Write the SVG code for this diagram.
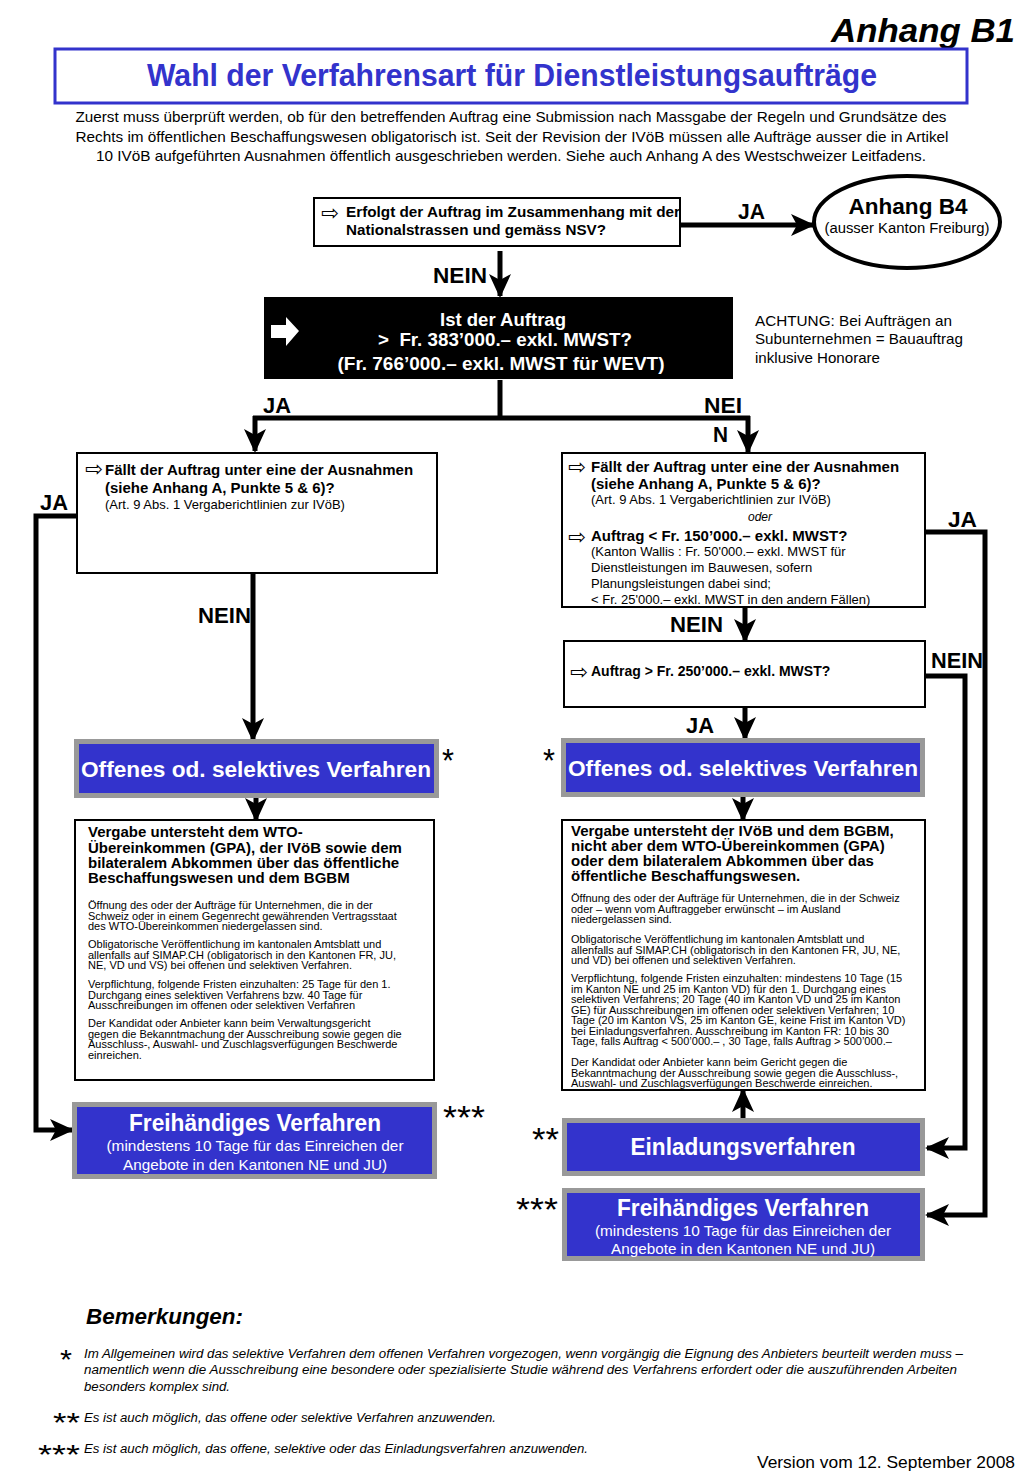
<svg xmlns="http://www.w3.org/2000/svg" width="1024" height="1479" viewBox="0 0 1024 1479">
<defs>
<style>
text{font-family:"Liberation Sans",Arial,sans-serif;fill:#000}
.b{font-weight:bold}
.i{font-style:italic}
.w{fill:#fff}
.box{fill:#fff;stroke:#000;stroke-width:2}
.gray{fill:#999}
.blue{fill:#3333cc}
.con{fill:none;stroke:#000;stroke-width:5}
.lbl{font-weight:bold;font-size:22px}
.sym{font-family:"DejaVu Sans",sans-serif;font-size:21px}
.star{font-size:34px}
.fstar{font-size:28px}
.hd{font-weight:bold;font-size:15px}
.bd{font-size:11px}
</style>
<marker id="ah" markerUnits="userSpaceOnUse" markerWidth="24" markerHeight="24" viewBox="0 0 24 24" refX="22" refY="12" orient="auto">
<path d="M0,1 L24,12 L0,23 L6,12 z" fill="#000"/>
</marker>
</defs>
<rect width="1024" height="1479" fill="#fff"/>

<g id="header">
<text x="1015" y="42" text-anchor="end" class="b i" font-size="33" textLength="184" lengthAdjust="spacingAndGlyphs">Anhang B1</text>
<rect x="55" y="49" width="912" height="54" fill="#fff" stroke="#3333cc" stroke-width="3"/>
<text x="512" y="86" text-anchor="middle" class="b" font-size="31" style="fill:#3333cc" textLength="730" lengthAdjust="spacingAndGlyphs">Wahl der Verfahrensart für Dienstleistungsaufträge</text>
<text x="511" y="122" text-anchor="middle" font-size="14.5" textLength="871" lengthAdjust="spacingAndGlyphs">Zuerst muss überprüft werden, ob für den betreffenden Auftrag eine Submission nach Massgabe der Regeln und Grundsätze des</text>
<text x="512" y="142" text-anchor="middle" font-size="14.5" textLength="873" lengthAdjust="spacingAndGlyphs">Rechts im öffentlichen Beschaffungswesen obligatorisch ist. Seit der Revision der IVöB müssen alle Aufträge ausser die in Artikel</text>
<text x="511" y="161" text-anchor="middle" font-size="14.5" textLength="830" lengthAdjust="spacingAndGlyphs">10 IVöB aufgeführten Ausnahmen öffentlich ausgeschrieben werden. Siehe auch Anhang A des Westschweizer Leitfadens.</text>
</g>

<g id="connectors">
<path class="con" d="M680,225 H813" marker-end="url(#ah)" stroke-width="6"/>
<path class="con" d="M500,251 V296" marker-end="url(#ah)"/>
<path class="con" d="M500,380 V418"/>
<path class="con" d="M253,418 H750"/>
<path class="con" d="M255,416 V451" marker-end="url(#ah)"/>
<path class="con" d="M748,416 V452" marker-end="url(#ah)"/>
<path class="con" d="M77,516 H36 V1130 H72" marker-end="url(#ah)"/>
<path class="con" d="M253,573 V740" marker-end="url(#ah)"/>
<path class="con" d="M256,797 V820" marker-end="url(#ah)"/>
<path class="con" d="M925,532 H985 V1215 H927" marker-end="url(#ah)"/>
<path class="con" d="M745,607 V641" marker-end="url(#ah)"/>
<path class="con" d="M925,676 H965 V1148 H927" marker-end="url(#ah)"/>
<path class="con" d="M745,708 V739" marker-end="url(#ah)"/>
<path class="con" d="M743,797 V820" marker-end="url(#ah)"/>
<path class="con" d="M743,1118 V1090" marker-end="url(#ah)"/>
</g>

<g id="labels">
<text x="738" y="219" class="lbl" font-size="21" textLength="27" lengthAdjust="spacingAndGlyphs">JA</text>
<text x="433" y="283" class="lbl" textLength="54" lengthAdjust="spacingAndGlyphs">NEIN</text>
<text x="263" y="413" class="lbl" textLength="28" lengthAdjust="spacingAndGlyphs">JA</text>
<text x="704" y="413" class="lbl" textLength="38" lengthAdjust="spacingAndGlyphs">NEI</text>
<text x="713" y="442" class="lbl" textLength="15" lengthAdjust="spacingAndGlyphs">N</text>
<text x="40" y="510" class="lbl" textLength="28" lengthAdjust="spacingAndGlyphs">JA</text>
<text x="198" y="623" class="lbl" textLength="53" lengthAdjust="spacingAndGlyphs">NEIN</text>
<text x="948" y="527" class="lbl" textLength="29" lengthAdjust="spacingAndGlyphs">JA</text>
<text x="670" y="632" class="lbl" textLength="53" lengthAdjust="spacingAndGlyphs">NEIN</text>
<text x="931" y="668" class="lbl" textLength="52" lengthAdjust="spacingAndGlyphs">NEIN</text>
<text x="686" y="733" class="lbl" textLength="28" lengthAdjust="spacingAndGlyphs">JA</text>
<text x="442" y="772" class="star" textLength="12" lengthAdjust="spacingAndGlyphs">*</text>
<text x="543" y="772" class="star" textLength="12" lengthAdjust="spacingAndGlyphs">*</text>
<text x="443" y="1129" class="star" textLength="42" lengthAdjust="spacingAndGlyphs">***</text>
<text x="532" y="1151" class="star" textLength="27" lengthAdjust="spacingAndGlyphs">**</text>
<text x="516" y="1221" class="star" textLength="42" lengthAdjust="spacingAndGlyphs">***</text>
</g>

<g id="q-nsv">
<rect class="box" x="314" y="198" width="366" height="48"/>
<text x="321" y="220" class="sym">⇨</text>
<text x="346" y="217" class="b" font-size="14" textLength="334" lengthAdjust="spacingAndGlyphs">Erfolgt der Auftrag im Zusammenhang mit der</text>
<text x="346" y="235" class="b" font-size="14" textLength="260" lengthAdjust="spacingAndGlyphs">Nationalstrassen und gemäss NSV?</text>
</g>

<g id="anhang-b4">
<ellipse cx="907" cy="222" rx="93" ry="46" fill="#fff" stroke="#000" stroke-width="4"/>
<text x="908" y="214" text-anchor="middle" class="b" font-size="22" textLength="119" lengthAdjust="spacingAndGlyphs">Anhang B4</text>
<text x="907" y="233" text-anchor="middle" font-size="14" textLength="165" lengthAdjust="spacingAndGlyphs">(ausser Kanton Freiburg)</text>
</g>

<g id="q-schwelle">
<rect x="264" y="297" width="469" height="82" fill="#000"/>
<polygon points="271,325 286,325 286,317 299,331 286,346 286,338 271,338" fill="#fff"/>
<text x="503" y="326" text-anchor="middle" class="b w" font-size="18" textLength="126" lengthAdjust="spacingAndGlyphs">Ist der Auftrag</text>
<text x="505" y="346" text-anchor="middle" class="b w" font-size="18" textLength="254" lengthAdjust="spacingAndGlyphs" xml:space="preserve">&gt;  Fr. 383’000.– exkl. MWST?</text>
<text x="501" y="370" text-anchor="middle" class="b w" font-size="18" textLength="327" lengthAdjust="spacingAndGlyphs">(Fr. 766’000.– exkl. MWST für WEVT)</text>
</g>

<g id="achtung">
<text x="755" y="326" font-size="15" textLength="197" lengthAdjust="spacingAndGlyphs">ACHTUNG: Bei Aufträgen an</text>
<text x="755" y="344" font-size="15" textLength="208" lengthAdjust="spacingAndGlyphs">Subunternehmen = Bauauftrag</text>
<text x="755" y="363" font-size="15" textLength="125" lengthAdjust="spacingAndGlyphs">inklusive Honorare</text>
</g>

<g id="q-ausnahmen-links">
<rect class="box" x="77" y="453" width="360" height="120"/>
<text x="85" y="476" class="sym">⇨</text>
<text x="105" y="475" class="b" font-size="15">Fällt der Auftrag unter eine der Ausnahmen</text>
<text x="105" y="493" class="b" font-size="15">(siehe Anhang A, Punkte 5 &amp; 6)?</text>
<text x="105" y="509" font-size="13">(Art. 9 Abs. 1 Vergaberichtlinien zur IVöB)</text>
</g>

<g id="q-ausnahmen-rechts">
<rect class="box" x="562" y="453" width="363" height="154"/>
<text x="568" y="474" class="sym">⇨</text>
<text x="591" y="472" class="b" font-size="15">Fällt der Auftrag unter eine der Ausnahmen</text>
<text x="591" y="489" class="b" font-size="15">(siehe Anhang A, Punkte 5 &amp; 6)?</text>
<text x="591" y="504" font-size="13">(Art. 9 Abs. 1 Vergaberichtlinien zur IVöB)</text>
<text x="760" y="521" text-anchor="middle" class="i" font-size="12">oder</text>
<text x="568" y="544" class="sym">⇨</text>
<text x="591" y="541" class="b" font-size="15">Auftrag &lt; Fr. 150’000.– exkl. MWST?</text>
<text x="591" y="556" font-size="13">(Kanton Wallis : Fr. 50'000.– exkl. MWST für</text>
<text x="591" y="572" font-size="13">Dienstleistungen im Bauwesen, sofern</text>
<text x="591" y="588" font-size="13">Planungsleistungen dabei sind;</text>
<text x="591" y="604" font-size="13">&lt; Fr. 25'000.– exkl. MWST in den andern Fällen)</text>
</g>

<g id="q-250">
<rect class="box" x="564" y="641" width="361" height="66"/>
<text x="570" y="679" class="sym">⇨</text>
<text x="591" y="676" class="b" font-size="14">Auftrag &gt; Fr. 250’000.– exkl. MWST?</text>
</g>

<g id="offen-links">
<rect class="gray" x="74" y="739" width="365" height="59"/>
<rect class="blue" x="79" y="744" width="355" height="49"/>
<text x="256" y="777" text-anchor="middle" class="b w" font-size="22" textLength="350" lengthAdjust="spacingAndGlyphs">Offenes od. selektives Verfahren</text>
</g>

<g id="offen-rechts">
<rect class="gray" x="561" y="738" width="364" height="59"/>
<rect class="blue" x="566" y="743" width="354" height="49"/>
<text x="743" y="776" text-anchor="middle" class="b w" font-size="22" textLength="350" lengthAdjust="spacingAndGlyphs">Offenes od. selektives Verfahren</text>
</g>

<g id="wto-box">
<rect class="box" x="75" y="820" width="359" height="260"/>
<text x="88" y="837" class="hd">Vergabe untersteht dem WTO-</text>
<text x="88" y="853" class="hd">Übereinkommen (GPA), der IVöB sowie dem</text>
<text x="88" y="868" class="hd">bilateralem Abkommen über das öffentliche</text>
<text x="88" y="883" class="hd">Beschaffungswesen und dem BGBM</text>
<text x="88" y="909" class="bd">Öffnung des oder der Aufträge für Unternehmen, die in der</text>
<text x="88" y="919.5" class="bd">Schweiz oder in einem Gegenrecht gewährenden Vertragsstaat</text>
<text x="88" y="930" class="bd">des WTO-Übereinkommen niedergelassen sind.</text>
<text x="88" y="948" class="bd">Obligatorische Veröffentlichung im kantonalen Amtsblatt und</text>
<text x="88" y="958.5" class="bd">allenfalls auf SIMAP.CH (obligatorisch in den Kantonen FR, JU,</text>
<text x="88" y="969" class="bd">NE, VD und VS) bei offenen und selektiven Verfahren.</text>
<text x="88" y="988" class="bd">Verpflichtung, folgende Fristen einzuhalten: 25 Tage für den 1.</text>
<text x="88" y="998.5" class="bd">Durchgang eines selektiven Verfahrens bzw. 40 Tage für</text>
<text x="88" y="1009" class="bd">Ausschreibungen im offenen oder selektiven Verfahren</text>
<text x="88" y="1027" class="bd">Der Kandidat oder Anbieter kann beim Verwaltungsgericht</text>
<text x="88" y="1037.5" class="bd">gegen die Bekanntmachung der Ausschreibung sowie gegen die</text>
<text x="88" y="1048" class="bd">Ausschluss-, Auswahl- und Zuschlagsverfügungen Beschwerde</text>
<text x="88" y="1058.5" class="bd">einreichen.</text>
</g>

<g id="ivob-box">
<rect class="box" x="562" y="820" width="363" height="270"/>
<text x="571" y="836" class="hd">Vergabe untersteht der IVöB und dem BGBM,</text>
<text x="571" y="851" class="hd">nicht aber dem WTO-Übereinkommen (GPA)</text>
<text x="571" y="866" class="hd">oder dem bilateralem Abkommen über das</text>
<text x="571" y="881" class="hd">öffentliche Beschaffungswesen.</text>
<text x="571" y="902" class="bd">Öffnung des oder der Aufträge für Unternehmen, die in der Schweiz</text>
<text x="571" y="912.5" class="bd">oder – wenn vom Auftraggeber erwünscht – im Ausland</text>
<text x="571" y="923" class="bd">niedergelassen sind.</text>
<text x="571" y="943" class="bd">Obligatorische Veröffentlichung im kantonalen Amtsblatt und</text>
<text x="571" y="953.5" class="bd">allenfalls auf SIMAP.CH (obligatorisch in den Kantonen FR, JU, NE,</text>
<text x="571" y="964" class="bd">und VD) bei offenen und selektiven Verfahren.</text>
<text x="571" y="982" class="bd">Verpflichtung, folgende Fristen einzuhalten: mindestens 10 Tage (15</text>
<text x="571" y="992.5" class="bd">im Kanton NE und 25 im Kanton VD) für den 1. Durchgang eines</text>
<text x="571" y="1003" class="bd">selektiven Verfahrens; 20 Tage (40 im Kanton VD und 25 im Kanton</text>
<text x="571" y="1013.5" class="bd">GE) für Ausschreibungen im offenen oder selektiven Verfahren; 10</text>
<text x="571" y="1024" class="bd">Tage (20 im Kanton VS, 25 im Kanton GE, keine Frist im Kanton VD)</text>
<text x="571" y="1034.5" class="bd">bei Einladungsverfahren. Ausschreibung im Kanton FR: 10 bis 30</text>
<text x="571" y="1045" class="bd">Tage, falls Auftrag &lt; 500’000.– , 30 Tage, falls Auftrag &gt; 500’000.–</text>
<text x="571" y="1066" class="bd">Der Kandidat oder Anbieter kann beim Gericht gegen die</text>
<text x="571" y="1076.5" class="bd">Bekanntmachung der Ausschreibung sowie gegen die Ausschluss-,</text>
<text x="571" y="1087" class="bd">Auswahl- und Zuschlagsverfügungen Beschwerde einreichen.</text>
</g>

<g id="freihaendig-links">
<rect class="gray" x="72" y="1102" width="365" height="77"/>
<rect class="blue" x="77" y="1107" width="355" height="67"/>
<text x="255" y="1131" text-anchor="middle" class="b w" font-size="23" textLength="252" lengthAdjust="spacingAndGlyphs">Freihändiges Verfahren</text>
<text x="255" y="1151" text-anchor="middle" class="w" font-size="14.5" textLength="297" lengthAdjust="spacingAndGlyphs">(mindestens 10 Tage für das Einreichen der</text>
<text x="255" y="1170" text-anchor="middle" class="w" font-size="14.5" textLength="264" lengthAdjust="spacingAndGlyphs">Angebote in den Kantonen NE und JU)</text>
</g>

<g id="einladung">
<rect class="gray" x="562" y="1118" width="363" height="58"/>
<rect class="blue" x="567" y="1123" width="353" height="48"/>
<text x="743" y="1155" text-anchor="middle" class="b w" font-size="23" textLength="225" lengthAdjust="spacingAndGlyphs">Einladungsverfahren</text>
</g>

<g id="freihaendig-rechts">
<rect class="gray" x="562" y="1188" width="363" height="73"/>
<rect class="blue" x="567" y="1193" width="353" height="63"/>
<text x="743" y="1216" text-anchor="middle" class="b w" font-size="23" textLength="252" lengthAdjust="spacingAndGlyphs">Freihändiges Verfahren</text>
<text x="743" y="1236" text-anchor="middle" class="w" font-size="14.5" textLength="296" lengthAdjust="spacingAndGlyphs">(mindestens 10 Tage für das Einreichen der</text>
<text x="743" y="1254" text-anchor="middle" class="w" font-size="14.5" textLength="264" lengthAdjust="spacingAndGlyphs">Angebote in den Kantonen NE und JU)</text>
</g>

<g id="bemerkungen">
<text x="86" y="1324" class="b i" font-size="22" textLength="157" lengthAdjust="spacingAndGlyphs">Bemerkungen:</text>
<text x="60" y="1369" class="fstar" textLength="12" lengthAdjust="spacingAndGlyphs">*</text>
<text x="84" y="1358" class="i" font-size="12" textLength="879" lengthAdjust="spacingAndGlyphs">Im Allgemeinen wird das selektive Verfahren dem offenen Verfahren vorgezogen, wenn vorgängig die Eignung des Anbieters beurteilt werden muss –</text>
<text x="84" y="1374" class="i" font-size="12" textLength="873" lengthAdjust="spacingAndGlyphs">namentlich wenn die Ausschreibung eine besondere oder spezialisierte Studie während des Verfahrens erfordert oder die auszuführenden Arbeiten</text>
<text x="84" y="1391" class="i" font-size="12" textLength="146" lengthAdjust="spacingAndGlyphs">besonders komplex sind.</text>
<text x="53" y="1432" class="fstar" textLength="27" lengthAdjust="spacingAndGlyphs">**</text>
<text x="84" y="1422" class="i" font-size="12" textLength="412" lengthAdjust="spacingAndGlyphs">Es ist auch möglich, das offene oder selektive Verfahren anzuwenden.</text>
<text x="38" y="1464" class="fstar" textLength="42" lengthAdjust="spacingAndGlyphs">***</text>
<text x="84" y="1453" class="i" font-size="12" textLength="504" lengthAdjust="spacingAndGlyphs">Es ist auch möglich, das offene, selektive oder das Einladungsverfahren anzuwenden.</text>
<text x="1015" y="1468" text-anchor="end" font-size="17" textLength="258" lengthAdjust="spacingAndGlyphs">Version vom 12. September 2008</text>
</g>
</svg>
